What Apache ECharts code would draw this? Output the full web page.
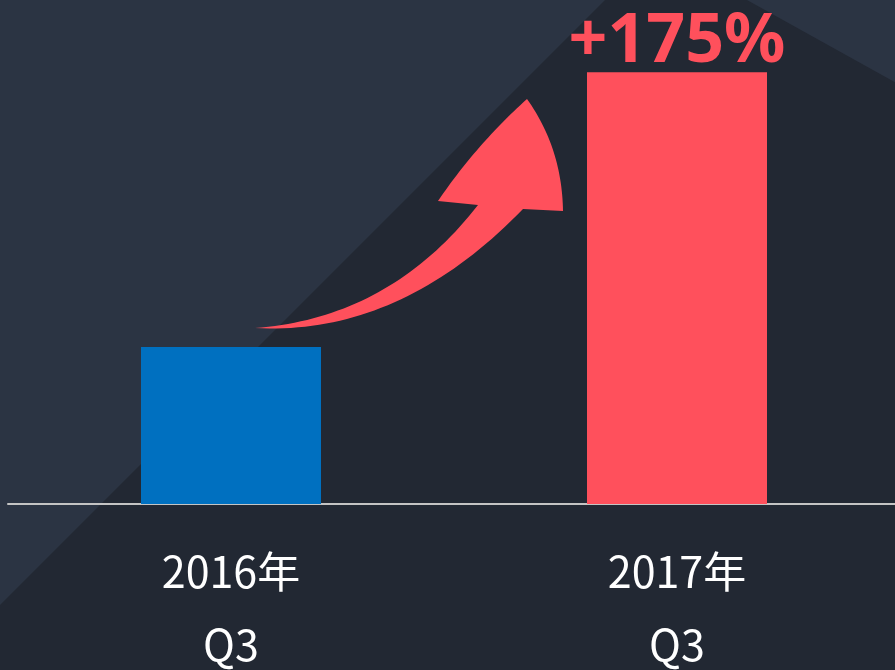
<!DOCTYPE html>
<html>
<head>
<meta charset="utf-8">
<script src="https://cdn.jsdelivr.net/npm/echarts@6/dist/echarts.min.js"></script>
<style>
html,body{margin:0;padding:0;background:#222833;overflow:hidden;}
#chart{width:895px;height:670px;}
</style>
</head>
<body>
<div id="chart"></div>
<script>
const years = ['2016年', '2017年'];
const quarters = ['Q3', 'Q3'];
const values = [100, 275];
const growthLabel = '+175%';

const categories = years.map((y, i) => y + '\n' + quarters[i]);

function quad(p0, c, p1, n) {
  const pts = [];
  for (let i = 1; i <= n; i++) {
    const t = i / n, u = 1 - t;
    pts.push([u*u*p0[0] + 2*u*t*c[0] + t*t*p1[0], u*u*p0[1] + 2*u*t*c[1] + t*t*p1[1]]);
  }
  return pts;
}
// decorative arrow outline
const leftNotch = [478, 205], tail = [255, 328], rightNotch = [523, 209];
const rightCorner = [563, 211], tip = [527, 99], leftCorner = [438, 201];
let arrowPts = [leftNotch];
arrowPts = arrowPts.concat(quad(leftNotch, [390, 318], tail, 40));
arrowPts = arrowPts.concat(quad(tail, [400, 336], rightNotch, 40));
arrowPts.push(rightCorner);
arrowPts = arrowPts.concat(quad(rightCorner, [562, 148], tip, 30));
arrowPts = arrowPts.concat(quad(tip, [476, 145], leftCorner, 30));

const chart = echarts.init(document.getElementById('chart'), null, {renderer: 'canvas'});
chart.setOption({
  backgroundColor: '#222833',
  animation: false,
  graphic: [
    {type: 'polygon', z: -10, silent: true, shape: {points: [[0,0],[605,0],[0,605]]}, style: {fill: '#2b3443'}},
    {type: 'polygon', z: -10, silent: true, shape: {points: [[747,0],[900,0],[900,85]]}, style: {fill: '#2b3443'}},
    {type: 'polygon', z: 10, silent: true, shape: {points: arrowPts}, style: {fill: '#ff505c'}}
  ],
  grid: {left: 8, right: -5, top: 33, bottom: 166, containLabel: false, outerBoundsMode: 'none'},
  xAxis: {
    type: 'category',
    data: categories,
    axisLine: {lineStyle: {color: '#c4c4c4', width: 2}},
    axisTick: {show: false},
    axisLabel: {
      color: '#ffffff',
      fontSize: 43,
      lineHeight: 73,
      margin: 31,
      fontFamily: '"Noto Sans CJK SC", "Noto Sans", sans-serif'
    }
  },
  yAxis: {type: 'value', min: 0, max: 300, show: false, splitLine: {show: false}},
  series: [{
    type: 'bar',
    barWidth: 180,
    data: values.map((v, i) => ({
      value: v,
      itemStyle: {color: i === 0 ? '#0070c0' : '#ff505c'},
      label: i === 1 ? {
        show: true,
        position: 'top',
        distance: -4,
        formatter: growthLabel,
        color: '#ff505c',
        fontSize: 68,
        fontWeight: 'bold',
        fontFamily: '"Noto Sans", "Noto Sans CJK SC", sans-serif'
      } : {show: false}
    }))
  }]
});
</script>
</body>
</html>
